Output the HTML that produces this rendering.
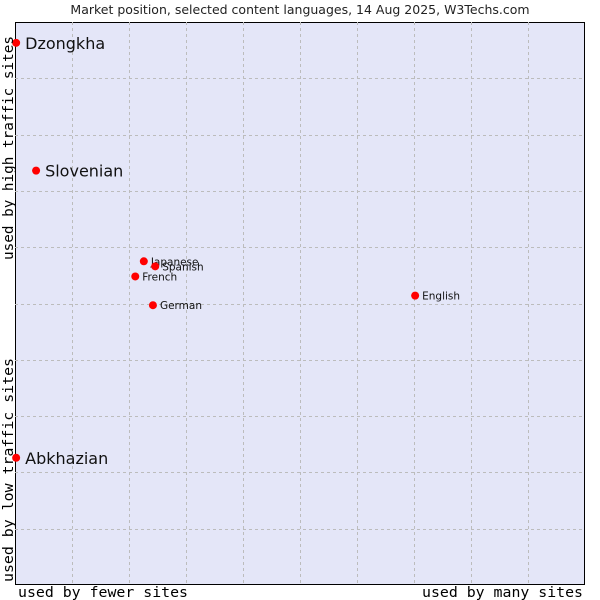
<!DOCTYPE html>
<html><head><meta charset="utf-8"><style>
body{margin:0;background:#fff;width:600px;height:600px;overflow:hidden}
svg{display:block}
</style></head><body>
<svg id="chart" width="600" height="600" xmlns="http://www.w3.org/2000/svg">
<text x="300" y="14" text-anchor="middle" font-family="DejaVu Sans, sans-serif" font-size="12.5" fill="#222">Market position, selected content languages, 14 Aug 2025, W3Techs.com</text>
<rect x="15.5" y="22.5" width="569" height="562" fill="#e4e6f8" stroke="#000" stroke-width="1"/>
<g id="grid"></g>
<g id="points"></g>
<text x="18" y="597" textLength="170" lengthAdjust="spacingAndGlyphs" font-family="DejaVu Sans Mono, Liberation Mono, monospace" font-size="14.5" fill="#000">used by fewer sites</text>
<text x="422" y="597" textLength="161" lengthAdjust="spacingAndGlyphs" font-family="DejaVu Sans Mono, Liberation Mono, monospace" font-size="14.5" fill="#000">used by many sites</text>
<text transform="translate(13,260) rotate(-90)" textLength="224" lengthAdjust="spacingAndGlyphs" font-family="DejaVu Sans Mono, Liberation Mono, monospace" font-size="14.5" fill="#000">used by high traffic sites</text>
<text transform="translate(13,582) rotate(-90)" textLength="224" lengthAdjust="spacingAndGlyphs" font-family="DejaVu Sans Mono, Liberation Mono, monospace" font-size="14.5" fill="#000">used by low traffic sites</text>
</svg>
<script>
const names=["Dzongkha","Slovenian","Japanese","Spanish","French","German","English","Abkhazian"];
const xValues=[0.2,3.7,22.6,24.6,21.1,24.2,70.2,0.2];
const yValues=[96.3,73.6,57.5,56.6,54.8,49.7,51.4,22.6];
const bigLabel=[true,true,false,false,false,false,false,true];
const L=15,R=585,T=22,B=585;
const sx=v=>L+v/100*(R-L);
const sy=v=>B-v/100*(B-T);
const NS="http://www.w3.org/2000/svg";
const grid=document.getElementById('grid');
for(let k=1;k<10;k++){
  const x=Math.round(sx(k*10))+0.5;
  const l=document.createElementNS(NS,'line');
  
  
  l.setAttribute('x1',x);l.setAttribute('x2',x);l.setAttribute('y1',T);l.setAttribute('y2',B);
  l.setAttribute('stroke','#bcbcbc');l.setAttribute('stroke-dasharray','3,3');
  grid.appendChild(l);
  const y=Math.round(sy(k*10))+0.5;
  const h=document.createElementNS(NS,'line');
  
  
  h.setAttribute('x1',L);h.setAttribute('x2',R);h.setAttribute('y1',y);h.setAttribute('y2',y);
  h.setAttribute('stroke','#bcbcbc');h.setAttribute('stroke-dasharray','3,3');
  grid.appendChild(h);
}
const pts=document.getElementById('points');
names.forEach((n,i)=>{
  const x=sx(xValues[i]),y=sy(yValues[i]);
  const c=document.createElementNS(NS,'circle');
  
  
  c.setAttribute('cx',x);c.setAttribute('cy',y);c.setAttribute('r',4);c.setAttribute('fill','#f00');
  pts.appendChild(c);
  const t=document.createElementNS(NS,'text');
  
  
  const big=bigLabel[i];
  t.setAttribute('x',x+(big?9:7));t.setAttribute('y',y+(big?6:4));
  t.setAttribute('font-family','DejaVu Sans, sans-serif');
  t.setAttribute('font-size',big?'16':'10.5');
  t.setAttribute('fill','#111');
  t.textContent=n;
  pts.appendChild(t);
});
</script>
</body></html>
